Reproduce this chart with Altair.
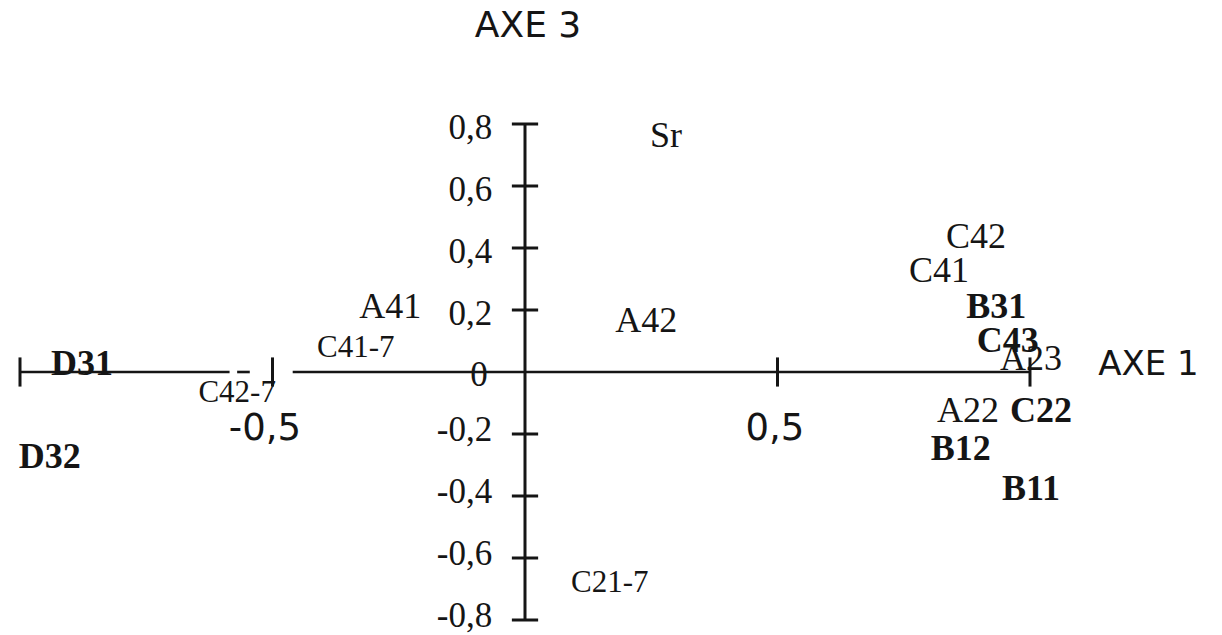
import altair as alt
import pandas as pd

# ---- data ----
labels = ["Sr", "A42", "A41", "C41-7", "C42-7", "D31", "D32", "C21-7",
          "C42", "C41", "B31", "C43", "A23", "A22", "C22", "B12", "B11"]
axe1 = [0.279, 0.240, -0.267, -0.335, -0.570, -0.877, -0.941, 0.168,
        0.893, 0.820, 0.933, 0.956, 1.002, 0.877, 1.022, 0.863, 1.002]
axe3 = [0.726, 0.129, 0.174, 0.048, -0.097, -0.010, -0.310, -0.710,
        0.400, 0.290, 0.174, 0.065, 0.006, -0.161, -0.161, -0.284, -0.413]
style = ["normal", "normal", "normal", "small", "small", "bold", "bold", "small",
         "normal", "normal", "bold", "bold", "normal", "normal", "bold", "bold", "bold"]

y_ticks = [0.8, 0.6, 0.4, 0.2, -0.2, -0.4, -0.6, -0.8]
y_tick_labels = ["0,8", "0,6", "0,4", "0,2", "-0,2", "-0,4", "-0,6", "-0,8"]
x_ticks = [-1.0, -0.5, 0.5, 1.0]
x_tick_labels = ["-0,5", "0,5"]
x_tick_label_pos = [-0.515, 0.495]
x_axis_segments_start = [-1.0, -0.57, -0.46]
x_axis_segments_end = [-0.585, -0.545, 1.0]

# ---- layout ----
W, H = 1200, 626
XDOM = [-1.02376, 1.35248]
YDOM = [(372 - (8 + H)) / 310, (372 - 8) / 310]
INK = "#151515"
SERIF = "Liberation Serif"
SANS = "DejaVu Sans"


def X(field="x"):
    return alt.X(f"{field}:Q", scale=alt.Scale(domain=XDOM, nice=False, zero=False), axis=None)


def Y(field="y"):
    return alt.Y(f"{field}:Q", scale=alt.Scale(domain=YDOM, nice=False, zero=False), axis=None)


pts = pd.DataFrame({"x": axe1, "y": axe3, "label": labels, "style": style})

# axes lines
hseg = pd.DataFrame({"x": x_axis_segments_start, "x2": x_axis_segments_end, "y": [0.0] * 3})
haxis = alt.Chart(hseg).mark_rule(color=INK, strokeWidth=2.6).encode(
    x=X("x"), x2="x2:Q", y=Y("y"))
vaxis = alt.Chart(pd.DataFrame({"x": [0.0], "y": [-0.8], "y2": [0.8]})).mark_rule(
    color=INK, strokeWidth=3).encode(x=X("x"), y=Y("y"), y2="y2:Q")

# ticks
ytk = pd.DataFrame({"y": y_ticks, "label": y_tick_labels})
ytk["x"] = -0.026
ytk["x2"] = 0.026
yticks = alt.Chart(ytk).mark_rule(color=INK, strokeWidth=3).encode(
    x=X("x"), x2="x2:Q", y=Y("y"))
xtk = pd.DataFrame({"x": x_ticks})
xtk["y"] = -0.047
xtk["y2"] = 0.047
xticks = alt.Chart(xtk).mark_rule(color=INK, strokeWidth=3).encode(
    x=X("x"), y=Y("y"), y2="y2:Q")

# tick labels
ylab_df = ytk.copy()
ylab_df["x"] = -0.065
ylab_base = alt.Chart(ylab_df)
ylabels_pos = ylab_base.transform_filter(alt.datum.y > 0).mark_text(
    font=SERIF, fontSize=35, align="right", baseline="middle", dy=4, color=INK
).encode(x=X("x"), y=Y("y"), text="label:N")
ylabels_neg = ylab_base.transform_filter(alt.datum.y < 0).mark_text(
    font=SERIF, fontSize=35, align="right", baseline="middle", dy=-4, color=INK
).encode(x=X("x"), y=Y("y"), text="label:N")
zero_lab = alt.Chart(pd.DataFrame({"x": [-0.091], "y": [0.0], "label": ["0"]})).mark_text(
    font=SERIF, fontSize=35, align="center", baseline="middle", dy=3, color=INK
).encode(x=X("x"), y=Y("y"), text="label:N")
xlab_df = pd.DataFrame({"x": x_tick_label_pos, "y": [-0.184, -0.184], "label": x_tick_labels})
xlabels = alt.Chart(xlab_df).mark_text(
    font=SANS, fontSize=37, align="center", baseline="middle", color=INK
).encode(x=X("x"), y=Y("y"), text="label:N")

# axis titles
titles = pd.DataFrame({"x": [0.006, 1.135], "y": [1.116, 0.023],
                       "label": ["AXE 3", "AXE 1"]})
t3 = alt.Chart(titles.iloc[[0]]).mark_text(
    font=SANS, fontSize=36, align="center", baseline="middle", color=INK
).encode(x=X("x"), y=Y("y"), text="label:N")
t1 = alt.Chart(titles.iloc[[1]]).mark_text(
    font=SANS, fontSize=34, align="left", baseline="middle", color=INK
).encode(x=X("x"), y=Y("y"), text="label:N")

# point labels
base = alt.Chart(pts)
normal = base.transform_filter(alt.datum.style == "normal").mark_text(
    font=SERIF, fontSize=36, align="center", baseline="alphabetic", color=INK
).encode(x=X("x"), y=Y("y"), text="label:N")
bold = base.transform_filter(alt.datum.style == "bold").mark_text(
    font=SERIF, fontSize=36, fontWeight="bold", align="center", baseline="alphabetic", color=INK
).encode(x=X("x"), y=Y("y"), text="label:N")
small = base.transform_filter(alt.datum.style == "small").mark_text(
    font=SERIF, fontSize=31, align="center", baseline="alphabetic", color=INK
).encode(x=X("x"), y=Y("y"), text="label:N")

chart = alt.layer(
    haxis, vaxis, yticks, xticks, ylabels_pos, ylabels_neg, zero_lab, xlabels, t3, t1,
    normal, bold, small
).properties(
    width=W, height=H, padding=0, autosize="none"
).configure_view(stroke=None)

chart.save("out.html", embed_options={"renderer": "svg", "actions": False})
